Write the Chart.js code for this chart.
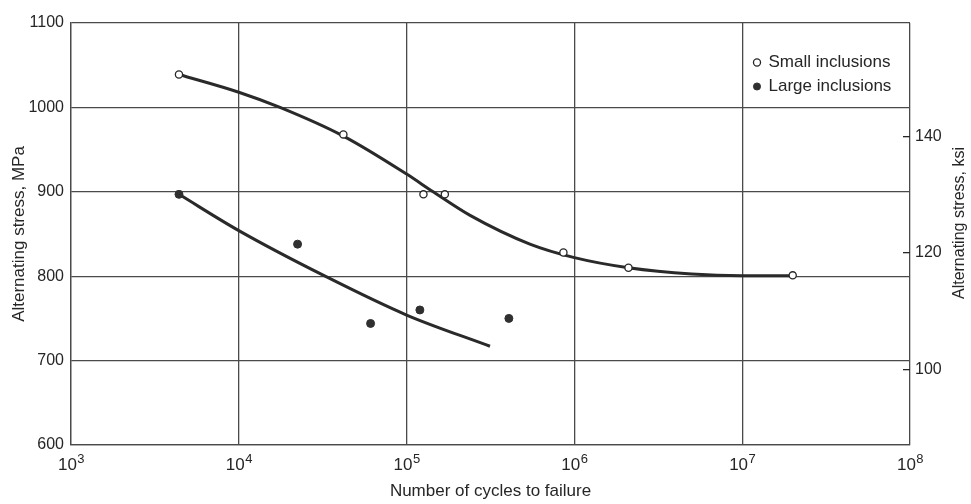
<!DOCTYPE html>
<html>
<head>
<meta charset="utf-8">
<title>Alternating stress vs cycles to failure</title>
<script src="https://cdn.jsdelivr.net/npm/chart.js@4.4.1/dist/chart.umd.min.js"></script>
<style>
  body { margin: 0; background: #fff; }
  #wrap { width: 971px; height: 504px; }
</style>
</head>
<body>
<div id="wrap"><canvas id="fatigue"></canvas></div>
<script>
// test points (cycles, MPa)
var smallCycles = [4.4e3, 4.2e4, 1.26e5, 1.69e5, 8.6e5, 2.1e6, 2.0e7];
var smallStress = [1039, 968, 897, 897, 828, 810, 801];
var largeCycles = [4.4e3, 2.24e4, 6.1e4, 1.2e5, 4.07e5];
var largeStress = [897, 838, 744, 760, 750];

// hand-drawn trend curves
var smallFitCycles = [4.4e3, 1e4, 1.76e4, 4.2e4, 1e5, 1.44e5, 2.39e5, 5.43e5, 1e6, 2.1e6, 5e6, 1e7, 2e7];
var smallFitStress = [1039, 1018, 1000, 966, 921, 900, 872, 838, 822, 810, 802.5, 800.5, 800.5];
var largeFitCycles = [4.4e3, 1e4, 3.27e4, 1e5, 3.14e5];
var largeFitStress = [897, 854, 800, 754, 717];

// axis ticks
var xExponents = [3, 4, 5, 6, 7, 8];
var mpaTicks = [600, 700, 800, 900, 1000, 1100];
var ksiTicks = [100, 120, 140];
var MPA_PER_KSI = 6.895;

var ink = '#262626';
var gridInk = '#4a4a4a';
var sans = "'Liberation Sans', Arial, sans-serif";

function pairs(xs, ys) {
  return xs.map(function (x, i) { return { x: x, y: ys[i] }; });
}

// 10^n labels under the log axis
var decadeLabels = {
  id: 'decadeLabels',
  afterDraw: function (chart) {
    var ctx = chart.ctx;
    var xs = chart.scales.x;
    var base = chart.chartArea.bottom;
    ctx.save();
    ctx.fillStyle = ink;
    ctx.textAlign = 'left';
    ctx.textBaseline = 'alphabetic';
    xExponents.forEach(function (e) {
      var px = xs.getPixelForValue(Math.pow(10, e));
      ctx.font = '17px ' + sans;
      var wBase = ctx.measureText('10').width;
      ctx.font = '13px ' + sans;
      var wExp = ctx.measureText(String(e)).width;
      var left = px - (wBase + wExp) / 2;
      ctx.font = '17px ' + sans;
      ctx.fillText('10', left, base + 25);
      ctx.font = '13px ' + sans;
      ctx.fillText(String(e), left + wBase + 0.5, base + 18);
    });
    ctx.restore();
  }
};

// right axis title reads bottom-to-top like the left one
var rightTitle = {
  id: 'rightTitle',
  afterDraw: function (chart) {
    var s = chart.scales.y2;
    var ctx = chart.ctx;
    var a = chart.chartArea;
    ctx.save();
    ctx.translate(s.right - 11, (a.top + a.bottom) / 2 - 11);
    ctx.rotate(-Math.PI / 2);
    ctx.font = '16px ' + sans;
    ctx.fillStyle = ink;
    ctx.textAlign = 'center';
    ctx.textBaseline = 'middle';
    ctx.fillText(s.options.title.text, 0, 0);
    ctx.restore();
  }
};

// push the legend into the top-right cell of the grid
var legendSpot = {
  id: 'legendSpot',
  afterLayout: function (chart) {
    var lg = chart.legend;
    var a = chart.chartArea;
    if (!lg) return;
    var w = lg.width, h = lg.height;
    lg.left = a.right - 163;
    lg.top = a.top + 24;
    lg.right = lg.left + w;
    lg.bottom = lg.top + h;
  }
};

var fatigueChart = new Chart(document.getElementById('fatigue'), {
  type: 'scatter',
  data: {
    datasets: [
      {
        label: 'Small inclusions',
        data: pairs(smallCycles, smallStress),
        pointRadius: 3.6,
        pointHoverRadius: 3.6,
        borderWidth: 1.3,
        backgroundColor: '#ffffff',
        borderColor: ink,
        order: 0
      },
      {
        label: 'Large inclusions',
        data: pairs(largeCycles, largeStress),
        pointRadius: 4,
        pointHoverRadius: 4,
        borderWidth: 1,
        backgroundColor: '#303030',
        borderColor: '#303030',
        order: 0
      },
      {
        label: 'small fit',
        data: pairs(smallFitCycles, smallFitStress),
        showLine: true,
        pointRadius: 0,
        borderWidth: 3,
        borderColor: '#2a2a2a',
        cubicInterpolationMode: 'monotone',
        order: 1
      },
      {
        label: 'large fit',
        data: pairs(largeFitCycles, largeFitStress),
        showLine: true,
        pointRadius: 0,
        borderWidth: 3,
        borderColor: '#2a2a2a',
        cubicInterpolationMode: 'monotone',
        order: 1
      }
    ]
  },
  options: {
    responsive: true,
    maintainAspectRatio: false,
    animation: false,
    layout: { padding: { top: 23, left: 0, right: 0, bottom: 0 } },
    plugins: {
      tooltip: { enabled: false },
      legend: {
        position: 'chartArea',
        align: 'start',
        labels: {
          usePointStyle: true,
          pointStyle: 'circle',
          boxWidth: 6,
          boxHeight: 5,
          padding: 7,
          color: ink,
          font: { family: sans, size: 17 },
          filter: function (item) { return item.datasetIndex < 2; }
        }
      }
    },
    scales: {
      x: {
        type: 'logarithmic',
        min: 1e3,
        max: 1e8,
        afterBuildTicks: function (s) {
          s.ticks = xExponents.map(function (e) { return { value: Math.pow(10, e) }; });
        },
        afterFit: function (s) { s.height = 59; },
        ticks: { display: false },
        grid: { color: gridInk, lineWidth: 1.3, drawTicks: false },
        border: { color: gridInk, width: 1.3 },
        title: {
          display: true,
          text: 'Number of cycles to failure',
          color: ink,
          font: { family: sans, size: 17 },
          padding: { top: 0, bottom: 2 }
        }
      },
      y: {
        position: 'left',
        min: 600,
        max: 1100,
        afterBuildTicks: function (s) {
          s.ticks = mpaTicks.map(function (v) { return { value: v }; });
        },
        afterFit: function (s) { s.width = 71; },
        ticks: {
          color: ink,
          font: { family: sans, size: 16 },
          padding: 7,
          callback: function (v) { return String(v); }
        },
        grid: { color: gridInk, lineWidth: 1.3, drawTicks: false },
        border: { color: gridInk, width: 1.3 },
        title: {
          display: true,
          text: 'Alternating stress, MPa',
          color: ink,
          font: { family: sans, size: 17 },
          padding: { top: 9, bottom: 0 }
        }
      },
      y2: {
        position: 'right',
        min: 600 / MPA_PER_KSI,
        max: 1100 / MPA_PER_KSI,
        afterBuildTicks: function (s) {
          s.ticks = ksiTicks.map(function (v) { return { value: v }; });
        },
        afterFit: function (s) { s.width = 61; },
        ticks: {
          color: ink,
          font: { family: sans, size: 16 },
          padding: 12,
          callback: function (v) { return String(v); }
        },
        grid: { drawOnChartArea: false, drawTicks: true, tickLength: -7, color: ink, lineWidth: 1.3 },
        border: { display: false },
        title: { display: false, text: 'Alternating stress, ksi' }
      }
    }
  },
  plugins: [decadeLabels, rightTitle, legendSpot]
});
</script>
</body>
</html>
